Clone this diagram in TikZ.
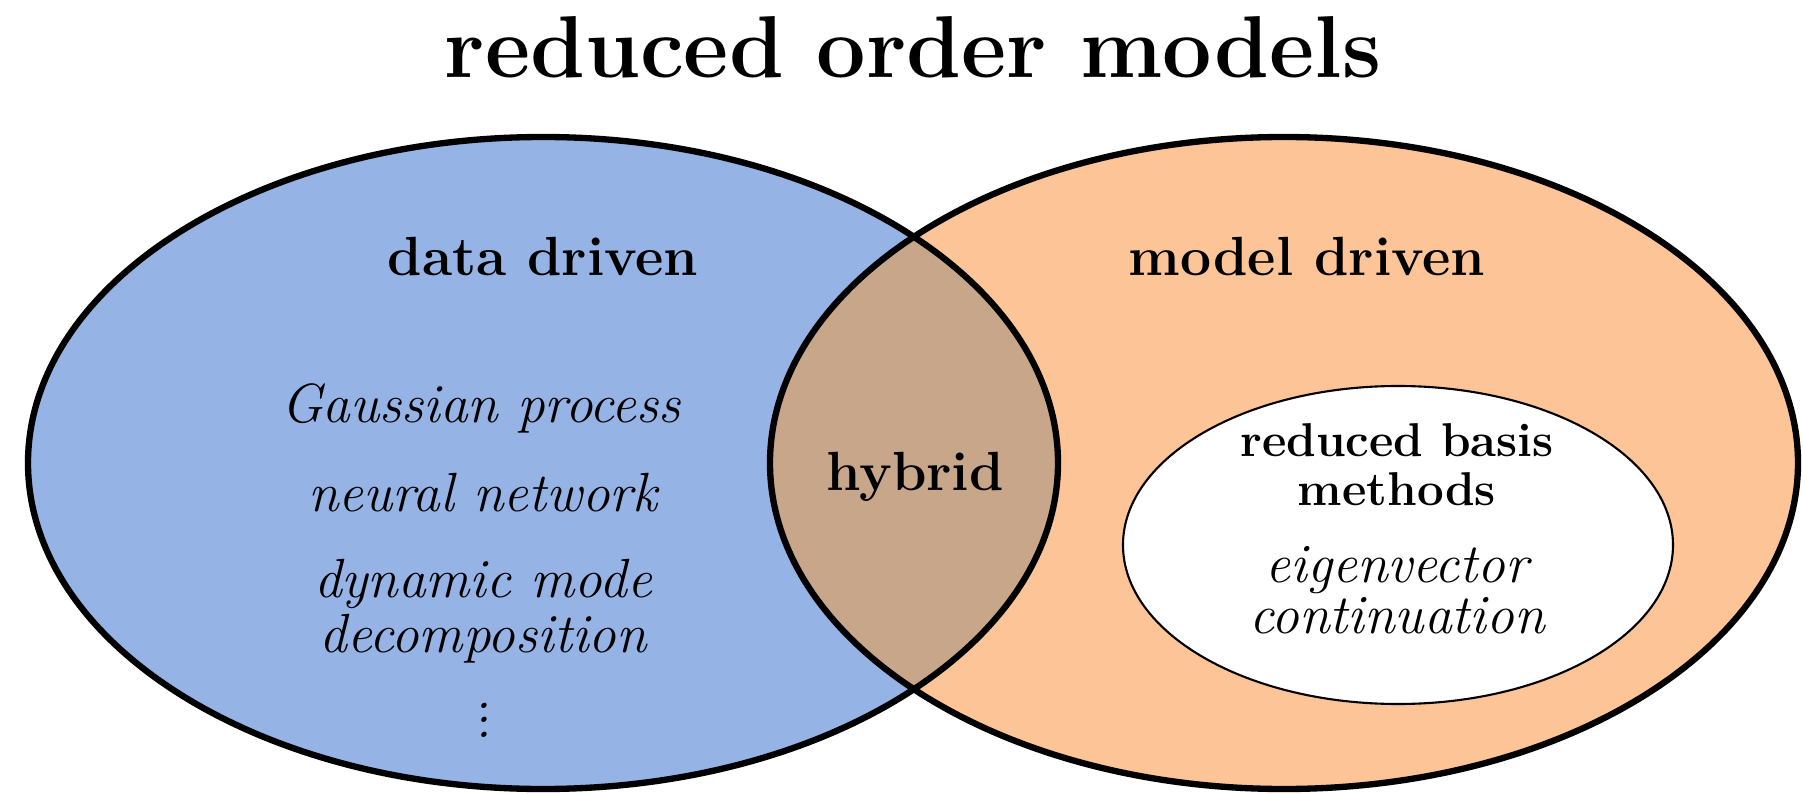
\documentclass[tikz,border=0pt]{standalone}
\usepackage{tikz}
\definecolor{datablue}{RGB}{149,179,228}
\definecolor{modelpeach}{RGB}{253,196,151}
\definecolor{hybridtan}{RGB}{200,166,138}

\begin{document}
\begin{tikzpicture}[every node/.style={inner sep=0pt, anchor=base},
  headline/.style={font=\bfseries\fontsize{15.7}{18}\selectfont},
  method/.style={font=\itshape\fontsize{15.7}{15.65}\selectfont, align=center}]
\useasboundingbox (0,0) rectangle (18.03,7.93);
\fill[datablue] (5.43,3.30) ellipse (5.15 and 3.26);
\fill[modelpeach] (12.84,3.30) ellipse (5.14 and 3.26);
\begin{scope}
  \clip (5.43,3.30) ellipse (5.15 and 3.26);
  \fill[hybridtan] (12.84,3.30) ellipse (5.14 and 3.26);
\end{scope}
\draw[line width=1.8pt] (5.43,3.30) ellipse (5.15 and 3.26);
\draw[line width=1.8pt] (12.84,3.30) ellipse (5.14 and 3.26);
\draw[fill=white, line width=0.6pt] (13.98,2.48) ellipse (2.75 and 1.59);
\node[font=\bfseries\fontsize{25}{30}\selectfont] (title) at (9.13,7.16) {reduced order models};
\node[headline] (data) at (5.43,5.18) {data driven};
\node[headline] (model) at (13.07,5.18) {model driven};
\node[headline] (hybrid) at (9.15,3.03) {hybrid};
\node[method] (gp) at (4.81,3.71) {Gaussian process};
\node[method] (nn) at (4.83,2.82) {neural network};
\node[method] (dmd) at (4.83,1.41) {dynamic mode\\decomposition};
\node[method] (more) at (4.84,0.56) {$\vdots$};
\node[font=\bfseries\fontsize{13.5}{13.7}\selectfont, align=center] (rbm) at (13.97,2.88) {reduced basis\\methods};
\node[method, font=\itshape\fontsize{15.8}{14.5}\selectfont] (ec) at (13.97,1.60) {eigenvector\\continuation};
\end{tikzpicture}
\end{document}
